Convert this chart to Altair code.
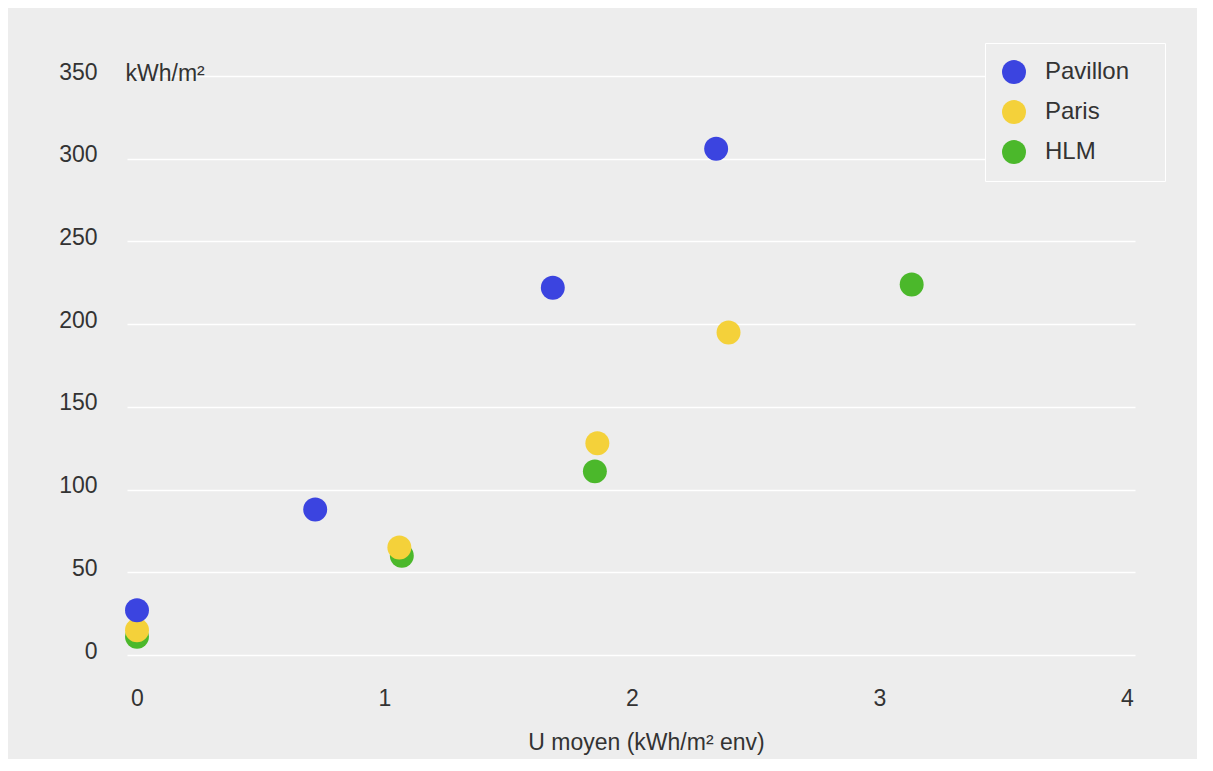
import altair as alt
import pandas as pd

# ---- data ----
series = ["Pavillon", "Paris", "HLM"]
colors = ["#3b44e0", "#f4d13a", "#4bb82b"]

pavillon_x = [0, 0.72, 1.68, 2.34]
pavillon_y = [27, 88, 222, 306]

paris_x = [0, 1.06, 1.86, 2.39]
paris_y = [15, 65, 128, 195]

hlm_x = [0, 1.07, 1.85, 3.13]
hlm_y = [11, 60, 111, 224]

x_ticks = [0, 1, 2, 3, 4]
y_ticks = [0, 50, 100, 150, 200, 250, 300, 350]

x_title = "U moyen (kWh/m² env)"
y_title = "kWh/m²"

# draw order: HLM below, Paris, Pavillon on top
rows = []
for name, xs, ys in [("HLM", hlm_x, hlm_y), ("Paris", paris_x, paris_y), ("Pavillon", pavillon_x, pavillon_y)]:
    for x, y in zip(xs, ys):
        rows.append({"serie": name, "u": x, "kwh": y})
df = pd.DataFrame(rows)

FONT = "Liberation Sans"
TXT = "#333333"
BG = "#ededed"
FS = 23

chart = (
    alt.Chart(df)
    .mark_circle(size=573, opacity=1)
    .encode(
        x=alt.X(
            "u:Q",
            scale=alt.Scale(domain=[-0.0404, 4.0323], nice=False, zero=False),
            axis=alt.Axis(
                values=x_ticks,
                title=x_title,
                grid=False,
                domain=False,
                ticks=False,
                tickSize=0,
                labelFontSize=FS,
                labelFont=FONT,
                labelColor=TXT,
                labelPadding=32,
                labelFlush=False,
                titleFont=FONT,
                titleFontSize=FS,
                titleFontWeight="normal",
                titleColor=TXT,
                titleX=519,
                titleY=94,
                titleAlign="center",
                titleBaseline="alphabetic",
            ),
        ),
        y=alt.Y(
            "kwh:Q",
            scale=alt.Scale(domain=[0, 350], nice=False),
            axis=alt.Axis(
                values=y_ticks,
                title=y_title,
                grid=True,
                gridColor="white",
                gridWidth=1.5,
                domain=False,
                ticks=False,
                tickSize=0,
                labelFontSize=FS,
                labelFont=FONT,
                labelColor=TXT,
                labelPadding=30,
                labelBaseline="middle",
                labelOffset=-4,
                labelFlush=False,
                titleFont=FONT,
                titleFontSize=FS,
                titleFontWeight="normal",
                titleColor=TXT,
                titleAngle=0,
                titleX=-2,
                titleY=-3,
                titleAlign="left",
                titleBaseline="middle",
            ),
        ),
        color=alt.Color(
            "serie:N",
            scale=alt.Scale(domain=series, range=colors),
            legend=alt.Legend(
                title=None,
                orient="none",
                legendX=858,
                legendY=-33,
                padding=17,
                strokeColor="white",
                fillColor=BG,
                symbolType="circle",
                symbolSize=573,
                symbolStrokeWidth=0,
                symbolOpacity=1,
                labelFont=FONT,
                labelFontSize=24,
                labelColor=TXT,
                labelOffset=19,
                rowPadding=16,
                labelExpr="datum.label + '\u2800'",
            ),
        ),
    )
    .properties(
        width=1008,
        height=579,
        background=BG,
        autosize=alt.AutoSizeParams(type="none"),
        padding={"left": 119, "top": 68, "right": 62, "bottom": 104},
    )
    .configure_view(stroke=None, fill=BG)
)

chart.save("out.html", embed_options={"renderer": "svg", "actions": False})
